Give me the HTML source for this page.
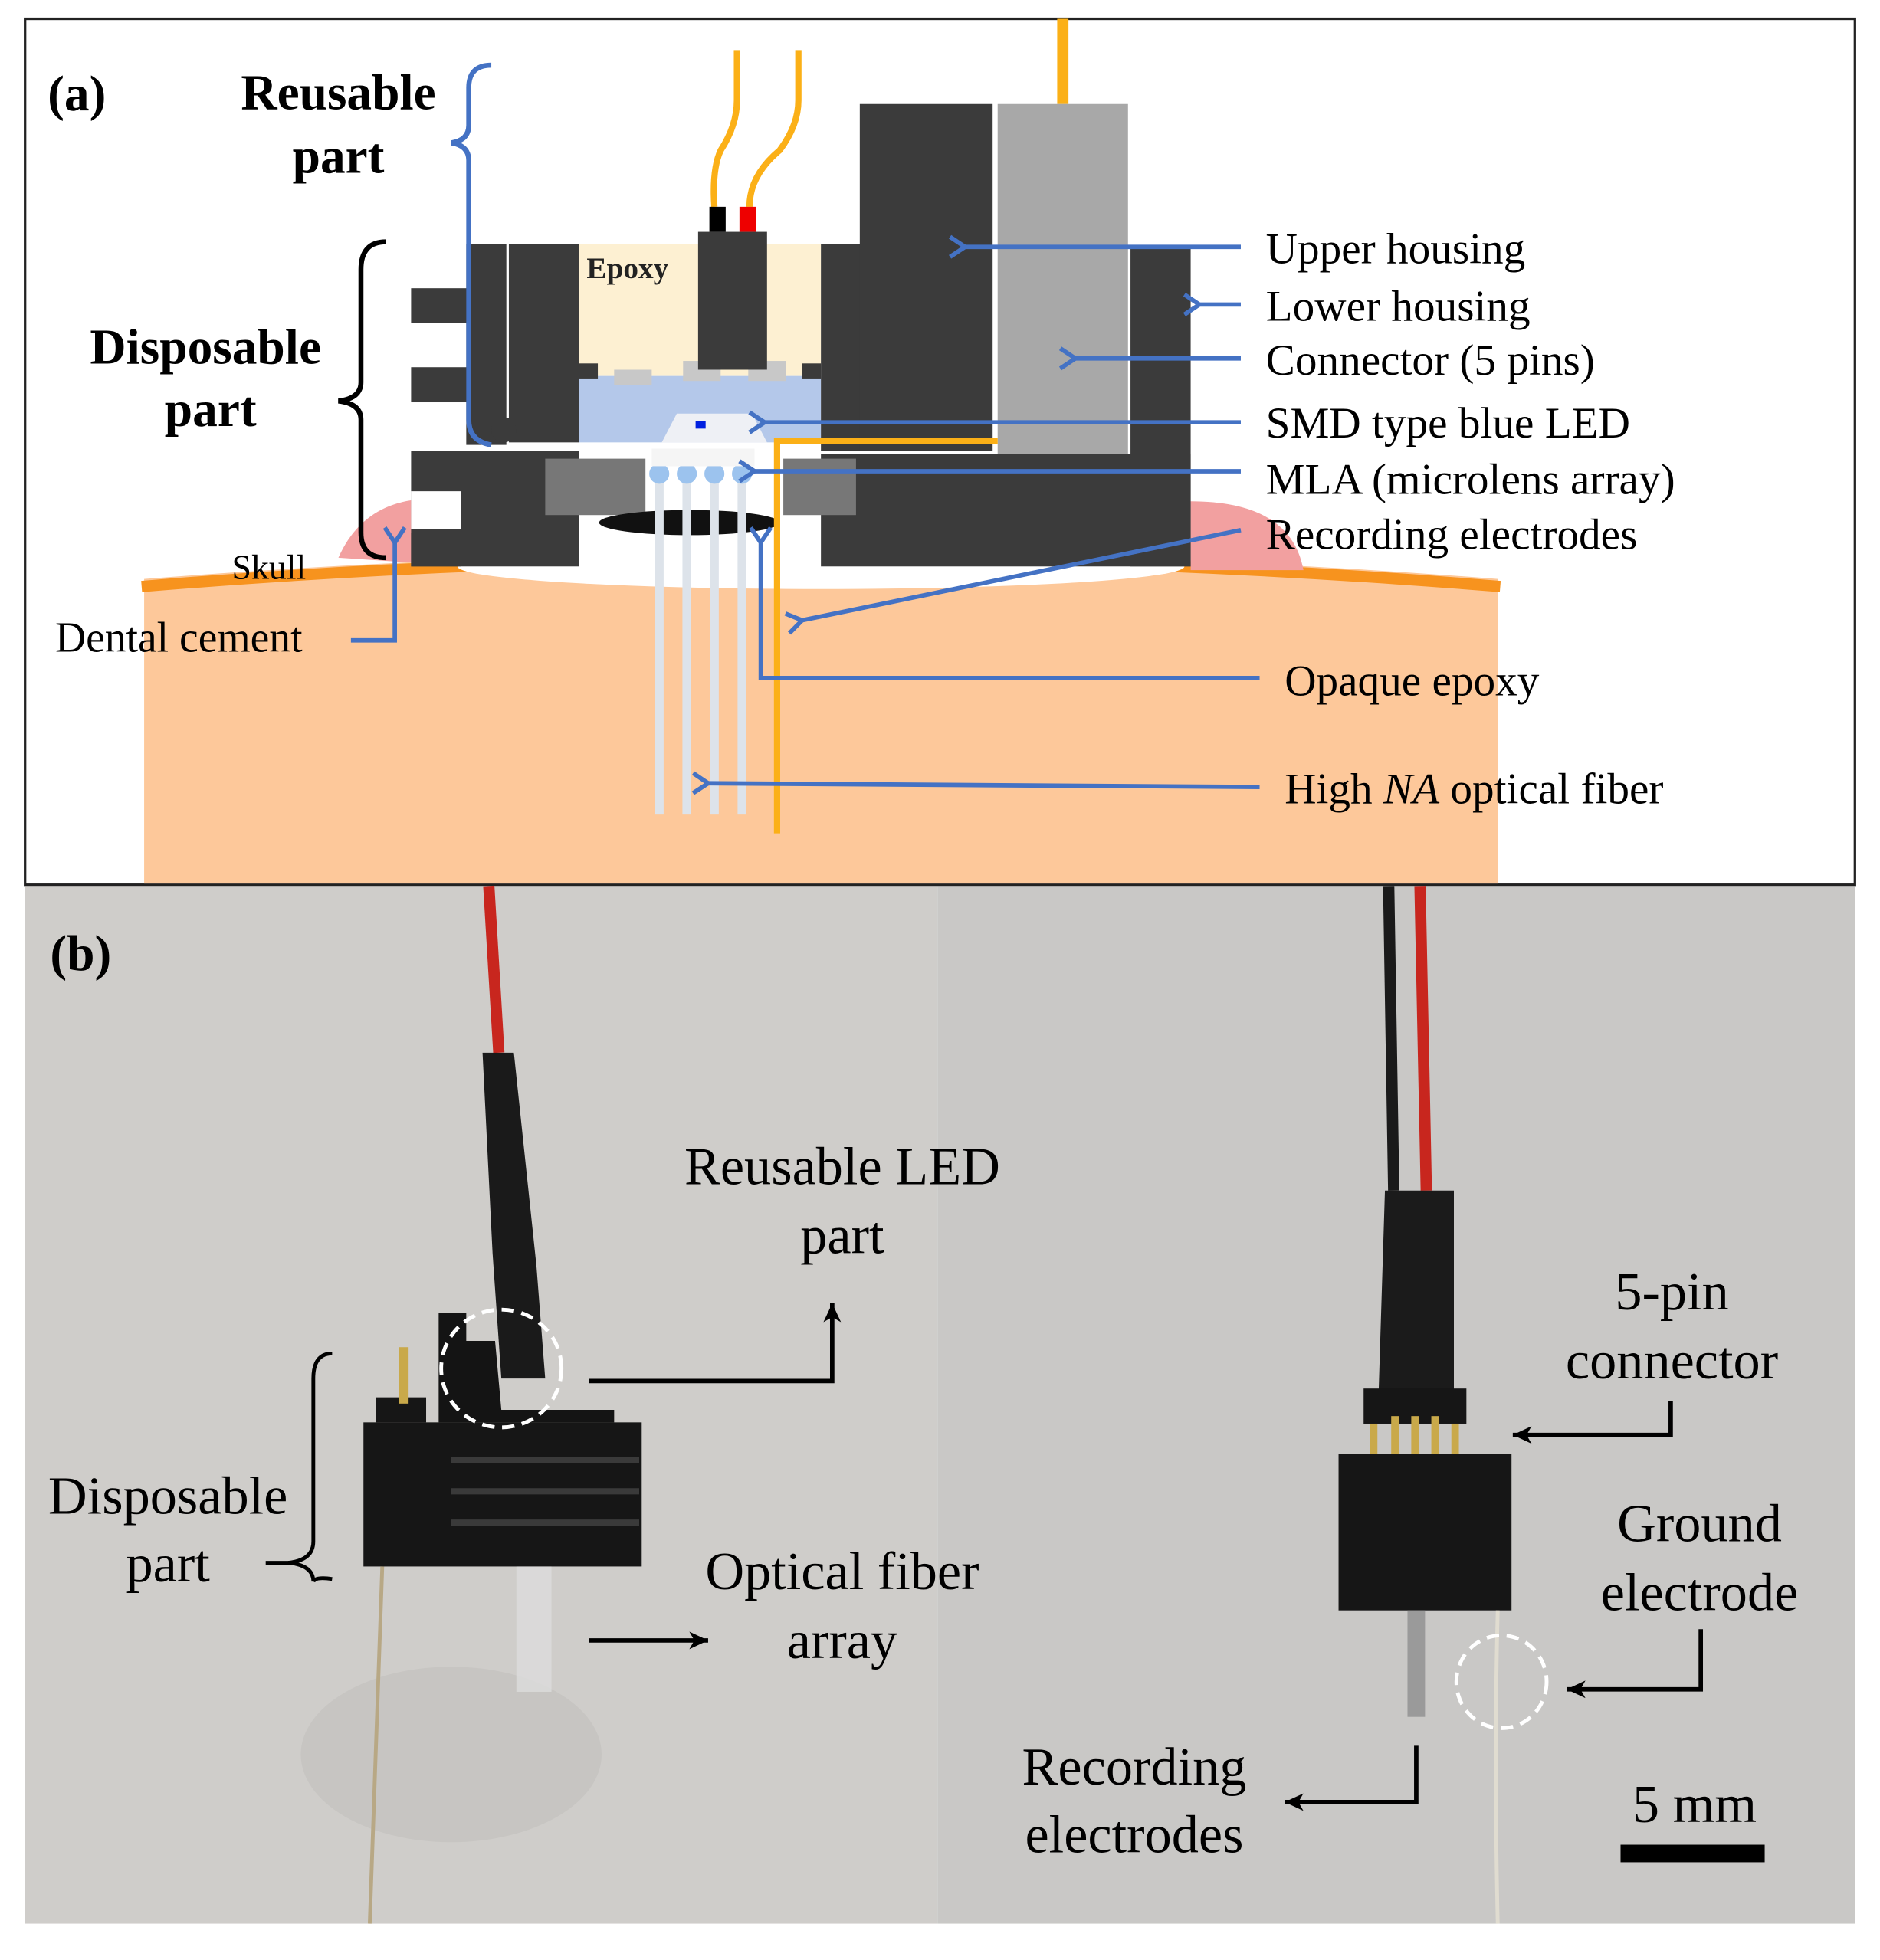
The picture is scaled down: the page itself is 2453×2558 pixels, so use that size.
<!DOCTYPE html>
<html><head><meta charset="utf-8"><style>
html,body{margin:0;padding:0;background:#fff}
svg{display:block}
text{font-family:"Liberation Serif",serif}
</style></head><body>
<svg width="2453" height="2558" viewBox="0 0 1500 1564" preserveAspectRatio="none" xmlns="http://www.w3.org/2000/svg">
<defs>
<marker id="ab" markerWidth="20" markerHeight="20" refX="2" refY="10" orient="auto" markerUnits="userSpaceOnUse" viewBox="0 0 20 20"><path d="M14,2 L2,10 L14,18" fill="none" stroke="#4472c4" stroke-width="3.5"/></marker>
<marker id="ak" markerWidth="16" markerHeight="16" refX="15" refY="8" orient="auto" markerUnits="userSpaceOnUse"><path d="M0,1 L15,8 L0,15 L4,8 Z" fill="#000"/></marker>
</defs>
<rect x="0" y="0" width="1500" height="1564" fill="#fff"/>
<rect x="20" y="15" width="1460" height="691" fill="#fff" stroke="#222" stroke-width="2"/>
<path d="M115,462 Q650,420 1195,462 L1195,705 L115,705 Z" fill="#fdc89a"/>
<path d="M113,468 Q650,424 1197,468" fill="none" stroke="#f7931e" stroke-width="9"/>
<path d="M270,445 Q290,400 340,398 L345,450 Z" fill="#f2a0a0"/>
<path d="M950,400 Q1030,400 1040,455 L950,455 Z" fill="#f2a0a0"/>
<ellipse cx="655" cy="452" rx="290" ry="18" fill="#fff"/>
<path d="M848,15 L848,83" stroke="#fbb017" stroke-width="9"/>
<path d="M588,40 L588,80 Q588,100 575,120 Q568,135 570,165" fill="none" stroke="#fbb017" stroke-width="5"/>
<path d="M637,40 L637,80 Q637,100 622,120 Q598,140 598,165" fill="none" stroke="#fbb017" stroke-width="5"/>
<rect x="566" y="165" width="13" height="20" fill="#000"/>
<rect x="590" y="165" width="13" height="20" fill="#e00"/>
<rect x="462" y="195" width="193" height="105" fill="#fdf0d2"/>
<text x="468" y="222" font-size="24" font-weight="bold" fill="#222">Epoxy</text>
<rect x="462" y="300" width="193" height="53" fill="#b4c8ea"/>
<rect x="490" y="295" width="30" height="12" fill="#c8c8c8"/>
<rect x="545" y="288" width="30" height="16" fill="#c8c8c8"/>
<rect x="597" y="288" width="30" height="16" fill="#c8c8c8"/>
<path d="M528,353 L540,330 L600,330 L612,353 Z" fill="#eef0f5"/>
<rect x="555" y="336" width="8" height="6" fill="#0020e0"/>
<rect x="557" y="185" width="55" height="110" fill="#3b3b3b"/>
<g fill="#3b3b3b">
<rect x="328" y="230" width="46" height="28"/>
<rect x="328" y="293" width="46" height="28"/>
<rect x="372" y="195" width="32" height="160"/>
<rect x="406" y="195" width="56" height="158"/>
<rect x="328" y="360" width="134" height="92"/>
<rect x="655" y="195" width="32" height="165"/>
<rect x="686" y="83" width="106" height="277"/>
<rect x="902" y="198" width="48" height="254"/>
<rect x="655" y="362" width="295" height="90"/>
</g>
<rect x="328" y="392" width="40" height="30" fill="#fff"/>
<rect x="328" y="425" width="40" height="27" fill="#3b3b3b"/>
<rect x="462" y="290" width="15" height="12" fill="#3b3b3b"/>
<rect x="640" y="290" width="15" height="12" fill="#3b3b3b"/>
<circle cx="402" cy="343" r="10" fill="#3b3b3b"/>
<rect x="796" y="83" width="104" height="279" fill="#a8a8a8"/>
<rect x="435" y="366" width="80" height="45" fill="#777"/>
<rect x="625" y="366" width="58" height="45" fill="#777"/>
<ellipse cx="550" cy="417" rx="72" ry="10" fill="#111"/>
<g stroke="#dde3ea" stroke-width="7">
<line x1="526" y1="378" x2="526" y2="650"/><line x1="548" y1="378" x2="548" y2="650"/>
<line x1="570" y1="378" x2="570" y2="650"/><line x1="592" y1="378" x2="592" y2="650"/>
</g>
<g fill="#9cc3ee"><circle cx="526" cy="378" r="8"/><circle cx="548" cy="378" r="8"/><circle cx="570" cy="378" r="8"/><circle cx="592" cy="378" r="8"/></g>
<rect x="520" y="358" width="82" height="14" fill="#f5f5f5"/>
<path d="M620,665 L620,352 L796,352" fill="none" stroke="#fbb017" stroke-width="5"/>
<path d="M392,52 Q374,52 374,70 L374,100 Q374,112 360,114 Q374,116 374,128 L374,335 Q374,352 392,355" fill="none" stroke="#4472c4" stroke-width="4"/>
<path d="M308,193 Q288,193 288,215 L288,305 Q288,318 270,320 Q288,322 288,335 L288,425 Q288,445 308,445" fill="none" stroke="#000" stroke-width="4"/>
<g font-weight="bold" fill="#000" font-size="40">
<text x="38" y="88">(a)</text>
<text x="270" y="87" text-anchor="middle">Reusable</text>
<text x="270" y="138" text-anchor="middle">part</text>
<text x="164" y="290" text-anchor="middle">Disposable</text>
<text x="168" y="340" text-anchor="middle">part</text>
</g>
<text x="185" y="462" font-size="28" fill="#000">Skull</text>
<text x="44" y="520" font-size="34" fill="#000">Dental cement</text>
<g font-size="35" fill="#000">
<text x="1010" y="210">Upper housing</text>
<text x="1010" y="256">Lower housing</text>
<text x="1010" y="299">Connector (5 pins)</text>
<text x="1010" y="349">SMD type blue LED</text>
<text x="1010" y="394">MLA (microlens array)</text>
<text x="1010" y="438">Recording electrodes</text>
<text x="1025" y="555">Opaque epoxy</text>
<text x="1025" y="641">High <tspan font-style="italic">NA</tspan> optical fiber</text>
</g>
<g stroke="#4472c4" stroke-width="3.5" fill="none">
<line x1="990" y1="197" x2="770" y2="197" marker-end="url(#ab)"/>
<line x1="990" y1="243" x2="957" y2="243" marker-end="url(#ab)"/>
<line x1="990" y1="286" x2="858" y2="286" marker-end="url(#ab)"/>
<line x1="990" y1="337" x2="610" y2="337" marker-end="url(#ab)"/>
<line x1="990" y1="376" x2="602" y2="376" marker-end="url(#ab)"/>
<line x1="990" y1="423" x2="640" y2="495" marker-end="url(#ab)"/>
<path d="M1005,541 L607,541 L607,433" marker-end="url(#ab)"/>
<line x1="1005" y1="628" x2="565" y2="625" marker-end="url(#ab)"/>
<path d="M280,511 L315,511 L315,433" marker-end="url(#ab)"/>
</g>
<!-- panel b -->
<rect x="20" y="707" width="728" height="828" fill="#cfcdca"/>
<rect x="748" y="707" width="732" height="828" fill="#c9c8c6"/>
<ellipse cx="360" cy="1400" rx="120" ry="70" fill="#c2c0bd" opacity="0.6"/>
<path d="M390,707 L398,840" stroke="#c8261e" stroke-width="9"/>
<path d="M385,840 L410,840 L428,1010 L435,1100 L400,1100 L393,1000 Z" fill="#1a1a1a"/>
<path d="M350,1048 L372,1048 L372,1070 L395,1070 L400,1125 L490,1125 L490,1135 L350,1135 Z" fill="#141414"/>
<rect x="290" y="1135" width="222" height="115" fill="#161616"/>
<rect x="300" y="1115" width="40" height="20" fill="#161616"/>
<rect x="318" y="1075" width="8" height="45" fill="#c9a94a"/>
<g stroke="#3a3a3a" stroke-width="5"><line x1="360" y1="1165" x2="510" y2="1165"/><line x1="360" y1="1190" x2="510" y2="1190"/><line x1="360" y1="1215" x2="510" y2="1215"/></g>
<rect x="412" y="1250" width="28" height="100" fill="#dcdcdc" opacity="0.8"/>
<path d="M305,1250 Q300,1400 295,1535" fill="none" stroke="#b8a885" stroke-width="3"/>
<ellipse cx="400" cy="1092" rx="48" ry="47" fill="none" stroke="#fff" stroke-width="3" stroke-dasharray="10,6"/>
<path d="M1108,707 L1112,950" stroke="#1a1a1a" stroke-width="9"/>
<path d="M1133,707 L1138,950" stroke="#c8261e" stroke-width="9"/>
<path d="M1105,950 L1160,950 L1160,1110 L1100,1110 Z" fill="#1b1b1b"/>
<rect x="1088" y="1108" width="82" height="28" fill="#161616"/>
<g fill="#c9a94a"><rect x="1093" y="1136" width="6" height="32"/><rect x="1110" y="1130" width="6" height="38"/><rect x="1126" y="1130" width="6" height="38"/><rect x="1142" y="1130" width="6" height="38"/><rect x="1158" y="1136" width="6" height="32"/></g>
<rect x="1068" y="1160" width="138" height="125" fill="#161616"/>
<rect x="1123" y="1285" width="14" height="85" fill="#9a9a9a"/>
<path d="M1195,1285 Q1192,1400 1195,1535" fill="none" stroke="#e0dcd0" stroke-width="3"/>
<ellipse cx="1198" cy="1342" rx="36" ry="37" fill="none" stroke="#fff" stroke-width="3" stroke-dasharray="10,6"/>
<text x="40" y="774" font-size="40" font-weight="bold" fill="#000">(b)</text>
<g font-size="43" fill="#000" text-anchor="middle">
<text x="672" y="945">Reusable LED</text>
<text x="672" y="1000">part</text>
<text x="134" y="1208">Disposable</text>
<text x="134" y="1262">part</text>
<text x="672" y="1268">Optical fiber</text>
<text x="672" y="1323">array</text>
<text x="1334" y="1045">5-pin</text>
<text x="1334" y="1100">connector</text>
<text x="1356" y="1230">Ground</text>
<text x="1356" y="1285">electrode</text>
<text x="905" y="1424">Recording</text>
<text x="905" y="1478">electrodes</text>
<text x="1352" y="1454">5 mm</text>
</g>
<rect x="1293" y="1472" width="115" height="14" fill="#000"/>
<path d="M265,1080 Q250,1080 250,1100 L250,1230 Q250,1245 230,1247 Q250,1249 250,1262" fill="none" stroke="#000" stroke-width="3"/>
<path d="M250,1262 Q252,1258 265,1260" fill="none" stroke="#000" stroke-width="3"/>
<line x1="212" y1="1247" x2="232" y2="1247" stroke="#000" stroke-width="3"/>
<g stroke="#000" stroke-width="3.5" fill="none">
<path d="M470,1102 L664,1102 L664,1040" marker-end="url(#ak)"/>
<line x1="470" y1="1309" x2="565" y2="1309" marker-end="url(#ak)"/>
<path d="M1333,1118 L1333,1145 L1207,1145" marker-end="url(#ak)"/>
<path d="M1357,1300 L1357,1348 L1250,1348" marker-end="url(#ak)"/>
<path d="M1130,1393 L1130,1438 L1025,1438" marker-end="url(#ak)"/>
</g>
</svg>
</body></html>
